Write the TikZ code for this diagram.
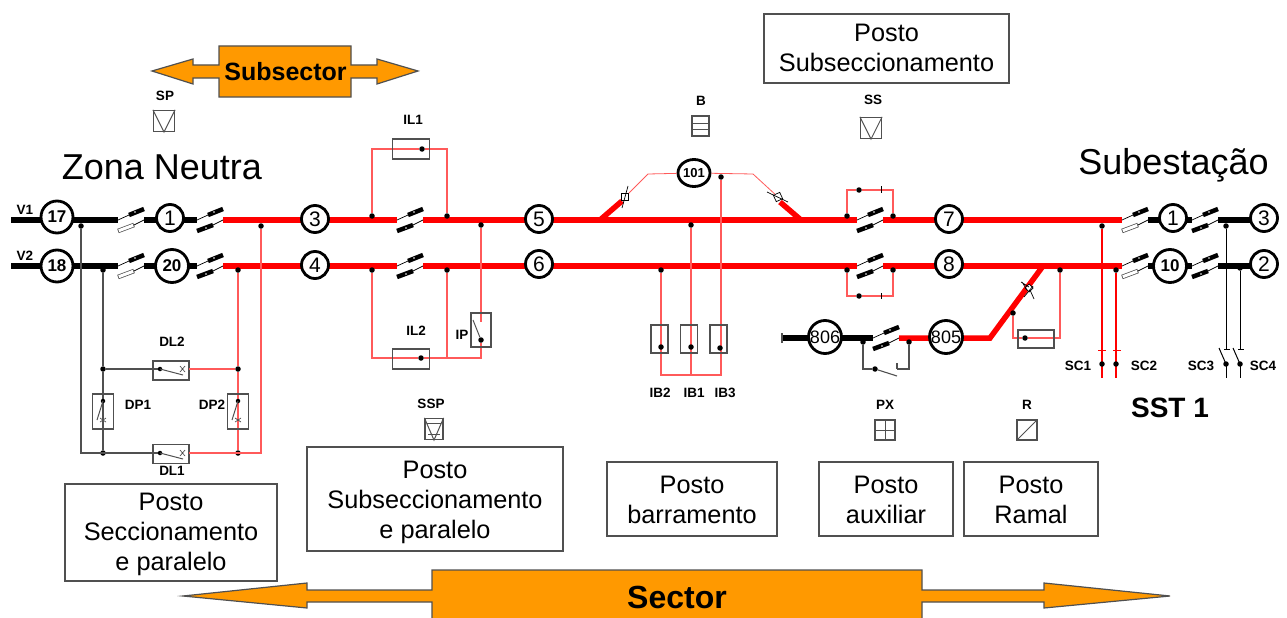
\documentclass[tikz,border=0pt]{standalone}
\usepackage{fontspec}
\setmainfont{Liberation Sans}
\usepackage{tikz}
\usetikzlibrary{calc}
\usetikzlibrary{shapes.geometric}

\definecolor{arrowfill}{HTML}{FF9900}
\definecolor{thinred}{HTML}{FF5A5A}
\definecolor{thingray}{HTML}{505050}

\tikzset{
  bus/.style={line width=5.5pt},
  redbus/.style={bus,red},
  blackbus/.style={bus,black},
  redwire/.style={line width=1.1pt,thinred},
  graywire/.style={line width=1.1pt,thingray},
  blackwire/.style={line width=1pt,black},
  dot/.style={circle,fill=black,inner sep=0pt,minimum size=5.5pt},
  stn/.style={circle,draw=black,line width=2.8pt,fill=white,inner sep=0pt,minimum size=#1,font=\fontsize{21}{23}\selectfont},
  stn/.default=27pt,
  lbl/.style={font=\fontsize{13.5}{15}\selectfont\bfseries,inner sep=0pt},
  big/.style={font=\fontsize{36}{38}\selectfont,inner sep=0pt},
  posto/.style={draw=thingray,line width=1.2pt,fill=white},
  postotxt/.style={font=\fontsize{25.3}{30}\selectfont,align=center,inner sep=0pt},
  devbox/.style={draw=thingray,line width=1.2pt},
  orangearrow/.style={draw=thingray,line width=1.2pt,fill=arrowfill},
  % upper blade and lower blade of a switch, origin on the left end
  pics/upblade/.style={code={
    \draw[line width=.7pt] (0,0) -- (11,-5);
    \draw[line width=4.5pt] (11,-5) -- (26,-11);
    \fill[white] (17,-8) circle (.9);
  }},
  pics/swblack/.style={code={
    \pic {upblade};
    \draw[line width=4.5pt] (0,11) -- (16,5);
    \fill[white] (9,8) circle (.9);
    \draw[line width=.7pt] (16,5) -- (26,0);
  }},
  pics/swwhite/.style={code={
    \pic {upblade};
    \draw[line width=4.5pt,thingray] (0,11) -- (16,5);
    \draw[line width=3pt,white] (.8,10.7) -- (15.2,5.3);
    \draw[line width=.7pt] (16,5) -- (26,0);
  }},
  pics/icosw/.style={code={
    \node[dot,minimum size=4.5pt] at (0,0) {};
    \draw[line width=1pt,thingray] (0,0) -- (-6,19);
    \draw[line width=.7pt,thingray] (-3,17) -- (3,21) (3,17) -- (-3,21);
  }},
  pics/hosw/.style={code={
    \node[dot,minimum size=4.5pt] at (0,0) {};
    \draw[line width=1pt,thingray] (0,0) -- (23,6);
    \draw[line width=.7pt,thingray] (20,-3) -- (25,3) (25,-3) -- (20,3);
  }}
}

\begin{document}
\begin{tikzpicture}[x=1pt,y=-1pt,font=\fontsize{14}{16}\selectfont]

  \useasboundingbox (0,0) rectangle (1287,618);
  \def\rowA{220}
  \def\rowB{266}

  % arrows
  \draw[orangearrow] (152,71) -- (193,59) -- (193,65) -- (219,65) -- (219,46) -- (351,46)
    -- (351,65) -- (377,65) -- (377,59) -- (418,71) -- (377,84) -- (377,78) -- (351,78)
    -- (351,97) -- (219,97) -- (219,78) -- (193,78) -- (193,84) -- cycle;
  \node[font=\fontsize{25}{27}\selectfont\bfseries,inner sep=0pt] (subsector) at (285.5,72) {Subsector};
  \draw[orangearrow] (183,596) -- (307,583) -- (307,590) -- (432,590) -- (432,570) -- (922,570)
    -- (922,590) -- (1044,590) -- (1044,583) -- (1170,596) -- (1044,608) -- (1044,602) -- (922,602)
    -- (922,622) -- (432,622) -- (432,602) -- (307,602) -- (307,608) -- cycle;
  \node[font=\fontsize{32}{34}\selectfont\bfseries,inner sep=0pt] (sector) at (677,597) {Sector};

  % boxes
  \node[posto,minimum width=245pt,minimum height=69pt] (pss) at (886.5,48.5) {};
  \node[postotxt] at (886.5,47.5) {Posto\\Subseccionamento};
  \node[posto,minimum width=212pt,minimum height=97pt] (psp) at (171,532.5) {};
  \node[postotxt] at (171,534.5) {Posto\\Seccionamento\\e paralelo};
  \node[posto,minimum width=256pt,minimum height=104pt] (pssp) at (435,499) {};
  \node[postotxt] at (435,502) {Posto\\Subseccionamento\\e paralelo};
  \node[posto,minimum width=170pt,minimum height=74pt] (pb) at (692,499) {};
  \node[postotxt] at (692,500) {Posto\\barramento};
  \node[posto,minimum width=134pt,minimum height=74pt] (pa) at (886,499) {};
  \node[postotxt] at (886,500) {Posto\\auxiliar};
  \node[posto,minimum width=134pt,minimum height=74pt] (pr) at (1031,499) {};
  \node[postotxt] at (1031,500) {Posto\\Ramal};

  \node[big] (zn) at (162,167) {Zona Neutra};
  \node[big] (sube) at (1173.5,165) {Subestação};
  \node[font=\fontsize{28}{30}\selectfont\bfseries,inner sep=0pt] (sst) at (1170,408) {SST 1};

  % bus ends
  \foreach \n/\x in {v1/11,a1/118,a2/144,a3/197,a4/223,a5/397,a6/423,a7/857,a8/883,a9/1122,a10/1148,a11/1192,a12/1218,a13/1264}
    \coordinate (\n) at (\x,\rowA);
  \foreach \n/\x in {v2/11,b1/118,b2/144,b3/197,b4/223,b5/397,b6/423,b7/857,b8/883,b9/1122,b10/1148,b11/1192,b12/1218,b13/1264}
    \coordinate (\n) at (\x,\rowB);
  \coordinate (m1) at (600,\rowA);
  \coordinate (m2) at (801,\rowA);
  \coordinate (m3) at (622,201);
  \coordinate (m4) at (780,202);
  \coordinate (p1) at (782,338);
  \coordinate (p2) at (873,338);
  \coordinate (p3) at (899,338);
  \coordinate (p4) at (990,338);
  \coordinate (p5) at (1043,\rowB);

  % black buses
  \draw[blackbus] (v1) -- (a1);
  \draw[blackbus] (v2) -- (b1);
  \draw[blackbus] (a2) -- (a3);
  \draw[blackbus] (b2) -- (b3);
  \draw[blackbus] (a10) -- (a11);
  \draw[blackbus] (b10) -- (b11);
  \draw[blackbus] (a12) -- (a13);
  \draw[blackbus] (b12) -- (b13);
  \draw[blackbus] (p1) -- (p2);
  \draw[line width=1.2pt,thingray] (782,333) -- (782,343);

  % red buses
  \draw[redbus] (a4) -- (a5);
  \draw[redbus] (b4) -- (b5);
  \draw[redbus] (a6) -- (a7);
  \draw[redbus] (b6) -- (b7);
  \draw[redbus] (a8) -- (a9);
  \draw[redbus] (b8) -- (b9);
  \draw[redbus,line join=miter] (p3) -- (p4) -- (p5);
  \draw[redbus] (m1) -- (m3);
  \draw[redbus] (m2) -- (m4);

  % stations
  \node[stn=32pt,font=\fontsize{17}{19}\selectfont\bfseries] (c17) at (57,217) {17};
  \node[stn=32pt,font=\fontsize{17}{19}\selectfont\bfseries] (c18) at (57,266) {18};
  \node[stn=27pt] (c1) at (170,218) {1};
  \node[stn=33pt,font=\fontsize{17}{19}\selectfont\bfseries] (c20) at (172,266) {20};
  \node[stn] (c3) at (315,219) {3};
  \node[stn] (c4) at (315,265) {4};
  \node[stn] (c5) at (539,219) {5};
  \node[stn] (c6) at (539,264) {6};
  \node[stn] (c7) at (949,219) {7};
  \node[stn] (c8) at (949,264) {8};
  \node[stn] (r1) at (1173,218) {1};
  \node[stn=33pt,font=\fontsize{17}{19}\selectfont\bfseries] (r10) at (1170,266) {10};
  \node[stn] (r3) at (1264,218) {3};
  \node[stn] (r2) at (1264,264) {2};
  \node[ellipse,draw=black,line width=2.8pt,fill=white,inner sep=0pt,minimum width=32pt,minimum height=27pt,font=\fontsize{13}{15}\selectfont\bfseries] (c101) at (694,173) {101};
  \node[stn=33pt,font=\fontsize{18}{20}\selectfont] (c806) at (825,337) {806};
  \node[stn=33pt,font=\fontsize{18}{20}\selectfont] (c805) at (946,337) {805};

  % switches
  \pic at (a1) {swwhite};
  \pic at (b1) {swwhite};
  \foreach \s in {a3,b3,a5,b5,a7,b7,a11,b11}
    \pic at (\s) {swblack};
  \pic at (a9) {swwhite};
  \pic at (b9) {swwhite};
  \pic at (p2) {swblack};

  % left block
  \node[dot] (j1) at (81,226) {};
  \node[dot] (j2) at (103,270) {};
  \node[dot] (j3) at (238,270) {};
  \node[dot] (j4) at (261,226) {};
  \node[dot] (j5) at (103,369) {};
  \node[dot] (j6) at (103,453) {};
  \node[dot] (j7) at (238,369) {};
  \node[dot] (j8) at (238,453) {};
  \coordinate (k1) at (160,453);
  \coordinate (k2) at (160,369);
  \coordinate (k3) at (197,453);
  \coordinate (k4) at (197,369);
  \draw[graywire] (j1) |- (k1);
  \draw[graywire] (j2) -- (j5) -- (j6);
  \draw[graywire] (j5) -- (k2);
  \draw[redwire] (j3) -- (j7) -- (j8);
  \draw[redwire] (j4) |- (k3);
  \draw[redwire] (k4) -- (j7);
  \node[devbox,minimum width=36pt,minimum height=19pt] (dl2) at (171,370.5) {};
  \node[devbox,minimum width=36pt,minimum height=19pt] (dl1) at (171,454) {};
  \node[devbox,minimum width=21pt,minimum height=35pt] (dp1) at (103,411.5) {};
  \node[devbox,minimum width=21pt,minimum height=35pt] (dp2) at (238,411.5) {};
  \pic at (160,369) {hosw};
  \pic at (160,453) {hosw};
  \pic at (103,401) {icosw};
  \pic at (238,401) {icosw};
  \draw[graywire] (189,369) -- (197,369);
  \draw[redwire] (189,369) -- (k4);
  \draw[redwire] (189,453) -- (k3);
  \node[lbl] at (172,342) {DL2};
  \node[lbl] at (138,405) {DP1};
  \node[lbl] at (212,405) {DP2};
  \node[lbl] at (172,471) {DL1};

  % IL and IP
  \node[dot] (j9) at (372,216) {};
  \node[dot] (j10) at (447,216) {};
  \node[dot] (j11) at (372,270) {};
  \node[dot] (j12) at (447,270) {};
  \node[dot] (j13) at (481,225) {};
  \node[dot] (il1d) at (422,149) {};
  \node[dot] (il2d) at (421,358) {};
  \node[dot] (ipd) at (481,340) {};
  \draw[redwire] (j9) |- (il1d);
  \draw[redwire] (j10) |- (il1d);
  \draw[redwire] (j11) |- (il2d);
  \draw[redwire] (j12) -- (447,358);
  \draw[redwire] (il2d) -- (481,358) -- (ipd);
  \draw[redwire] (j13) -- (481,322);
  \node[devbox,minimum width=37pt,minimum height=20pt] (il1) at (411,149) {};
  \node[devbox,minimum width=37pt,minimum height=20pt] (il2) at (411,359) {};
  \node[devbox,minimum width=20pt,minimum height=34pt] (ip) at (481,330) {};
  \draw[line width=1pt,thingray] (ipd) -- (473,320);
  \node[lbl] at (413,120) {IL1};
  \node[lbl] at (416,331) {IL2};
  \node[lbl] at (462,335) {IP};

  % 101 loop
  \coordinate (l1) at (648,174);
  \coordinate (l2) at (753,174);
  \node[draw=black,fill=white,line width=.7pt,minimum size=7pt,inner sep=0pt] (s1) at (625,197) {};
  \node[draw=black,fill=white,line width=.7pt,minimum size=7pt,inner sep=0pt,rotate=25] (s2) at (778,197) {};
  \draw[line width=.7pt] (628,186) -- (622,208);
  \draw[line width=.7pt] (767,192) -- (788,202);
  \draw[redwire,line width=.8pt] (s1) -- (l1) -- (c101);
  \draw[redwire,line width=.8pt] (c101) -- (l2) -- (s2);
  \node[dot] (j14) at (721,177) {};
  \node[dot] (j15) at (691,225) {};
  \node[dot] (j16) at (661,270) {};
  \coordinate (q1) at (691,375);
  \draw[redwire] (j14) |- (q1);
  \draw[redwire] (j15) -- (q1);
  \draw[redwire] (j16) |- (q1);
  \node[devbox,minimum width=17pt,minimum height=28pt] (ib2) at (659.5,339) {};
  \node[devbox,minimum width=17pt,minimum height=28pt] (ib1) at (689,339) {};
  \node[devbox,minimum width=17pt,minimum height=28pt] (ib3) at (718.5,339) {};
  \node[dot] at (661,347) {};
  \node[dot] at (691,347) {};
  \node[dot] at (720,348) {};
  \node[lbl] at (660,393) {IB2};
  \node[lbl] at (694,393) {IB1};
  \node[lbl] at (725,393) {IB3};

  % SS loops
  \node[dot] (j17) at (847,216) {};
  \node[dot] (j18) at (893,216) {};
  \node[dot] (j19) at (847,270) {};
  \node[dot] (j20) at (893,270) {};
  \node[dot] (j21) at (859,190) {};
  \node[dot] (j22) at (859,296) {};
  \draw[redwire] (j17) |- (j21);
  \draw[redwire] (j18) |- (j21);
  \draw[redwire] (j19) |- (j22);
  \draw[redwire] (j20) |- (j22);
  \draw[line width=.7pt] (881,186) -- (881,193) (881,293) -- (881,299);

  % 805 bypass
  \node[dot] (j23) at (863,342) {};
  \node[dot] (j24) at (909,342) {};
  \node[dot] (j25) at (875,369) {};
  \coordinate (byp) at (897,369);
  \draw[graywire] (j23) |- (j25);
  \draw[graywire] (j25) -- (897,376);
  \draw[graywire] (897,363) -- (byp);
  \draw[graywire] (byp) -| (j24);

  % R branch
  \node[dot] (j26) at (1013,313) {};
  \node[dot] (j27) at (1060,270) {};
  \node[dot] (j28) at (1025,338) {};
  \draw[redwire] (j26) |- (j28);
  \draw[redwire] (j28) -| (j27);
  \node[devbox,minimum width=36pt,minimum height=18pt] (rbox) at (1036,339) {};
  \draw[fill=white,line width=.7pt] (1025,288) -- (1029,284) -- (1033,288) -- (1029,292) -- cycle;
  \draw[line width=.7pt] (1022,282) -- (1027,290) (1030,290) -- (1034,299) (1021,282) -- (1029,287) (1024,297) -- (1033,286);

  % SC
  \node[dot] (j29) at (1102,226) {};
  \node[dot] (j30) at (1116,270) {};
  \node[dot] (j31) at (1226,226) {};
  \node[dot] (j32) at (1240,268) {};
  \coordinate (e1) at (1102,378);
  \coordinate (e2) at (1116,378);
  \coordinate (e3) at (1226,378);
  \coordinate (e4) at (1240,378);
  \draw[redwire,red] (j29) -- (e1);
  \draw[redwire,red] (j30) -- (e2);
  \draw[line width=.8pt,red] (1098,350) -- (1106,350) (1113,350) -- (1121,350);
  \draw[blackwire] (j31) -- (1226,349);
  \draw[blackwire] (j32) -- (1240,349);
  \draw[blackwire] (1226,364) -- (e3);
  \draw[blackwire] (1240,364) -- (e4);
  \draw[blackwire] (1224,349) -- (1230,349) (1238,349) -- (1244,349);
  \draw[blackwire] (1219,348) -- (1226,364) (1233,348) -- (1240,364);
  \node[dot] at (1102,364) {};
  \node[dot] at (1116,364) {};
  \node[dot] at (1226,364) {};
  \node[dot] at (1240,364) {};
  \node[lbl] at (1078,366) {SC1};
  \node[lbl] at (1144,366) {SC2};
  \node[lbl] at (1201,366) {SC3};
  \node[lbl] at (1263,366) {SC4};
  \node[lbl] at (25,210) {V1};
  \node[lbl] at (25,256) {V2};

  % icons
  \node[lbl] at (165,96) {SP};
  \node[devbox,minimum size=21pt,inner sep=0pt] (sp) at (164,121) {};
  \draw[line width=1pt,thingray] (sp.north west) -- (sp.south) -- (sp.north east);
  \node[lbl] at (873,100) {SS};
  \node[devbox,minimum size=21pt,inner sep=0pt] (ss) at (871,128) {};
  \draw[line width=1pt,thingray] (ss.north west) -- (ss.south) -- (ss.north east);
  \node[lbl] at (431,404) {SSP};
  \node[devbox,minimum width=18pt,minimum height=21pt,inner sep=0pt] (ssp) at (434,429) {};
  \draw[line width=1pt,thingray] (ssp.north west) -- (ssp.south) -- (ssp.north east);
  \draw[line width=.8pt,thingray] (427,423) -- (441,423) (428,434) -- (440,434);
  \node[lbl] at (701,101) {B};
  \node[devbox,minimum width=17pt,minimum height=20pt,inner sep=0pt] (bico) at (700.5,126) {};
  \draw[line width=1pt,thingray] (692,123) -- (709,123) (692,129) -- (709,129);
  \node[lbl] at (885,405) {PX};
  \node[devbox,minimum size=20pt,inner sep=0pt] (px) at (885,430) {};
  \draw[line width=1pt,thingray] (px.north) -- (px.south) (px.west) -- (px.east);
  \node[lbl] at (1027,405) {R};
  \node[devbox,minimum size=20pt,inner sep=0pt] (rico) at (1027,430) {};
  \draw[line width=1pt,thingray] (rico.south west) -- (rico.north east);

\end{tikzpicture}
\end{document}
